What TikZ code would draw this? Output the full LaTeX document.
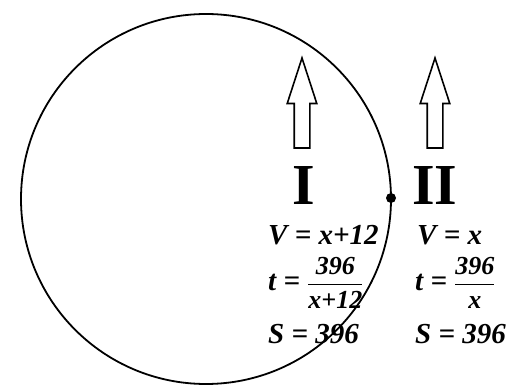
\documentclass[tikz,border=0pt]{standalone}
\usepackage{fontspec}
\usepackage{amsmath}
\setmainfont{Liberation Serif}
\usetikzlibrary{shapes.arrows}
\newcommand{\frc}[2]{$\dfrac{\text{\fontsize{26}{26}\selectfont #1}}{\text{\fontsize{26}{26}\selectfont #2}}$}

\begin{document}
\begin{tikzpicture}[
  x=1pt, y=-1pt,
  uparr/.style={draw, line width=1.6pt, single arrow, rotate=90, single arrow head extend=7pt,
    single arrow tip angle=36, inner sep=7pt, minimum height=90pt},
  lbl/.style={font=\fontsize{58}{58}\selectfont\bfseries, inner sep=0pt, anchor=base},
  eq/.style={font=\fontsize{29}{32}\selectfont\bfseries\itshape, inner sep=0pt, anchor=base west}
]
\useasboundingbox (0,0) rectangle (506,387);

\node[circle, draw, line width=1.8pt, minimum size=370pt] (track) at (206,199) {};
\node[circle, fill, inner sep=0pt, minimum size=10pt] (dot) at (391,198) {};

\node[uparr] (arrI) at (302,115) {};
\node[uparr] (arrII) at (435,115) {};
\node[lbl] (labI) at (304,205) {I};
\node[lbl] (labII) at (435,205) {II};

% first column
\node[eq] (vI) at (268,245) {V = x+12};
\node[eq] (tI) at (268,291) {t = \frc{396}{x+12}};
\node[eq] (sI) at (268,343) {S = 396};

% second column
\node[eq] (vII) at (417,245) {V = x};
\node[eq] (tII) at (415,291) {t = \frc{396}{x}};
\node[eq] (sII) at (415,343) {S = 396};
\end{tikzpicture}
\end{document}
